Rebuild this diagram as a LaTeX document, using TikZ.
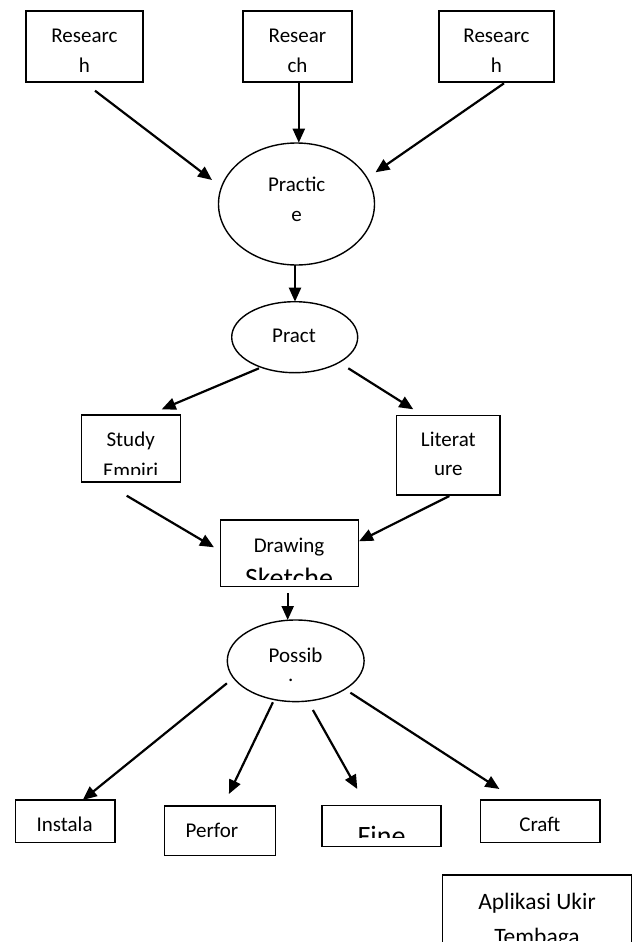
\documentclass[tikz,border=0pt]{standalone}
\usepackage{fontspec}
\setmainfont{Carlito}
\usetikzlibrary{arrows.meta,shapes.geometric}
\begin{document}
\begin{tikzpicture}[x=1pt,y=-1pt,
  box/.style={draw, line width=1.4pt, rectangle, inner sep=0pt},
  oval/.style={draw, line width=1.4pt, ellipse, inner sep=0pt},
  conn/.style={line width=2.2pt, -{Triangle[length=14pt,width=12pt]}},
  txt/.style={anchor=base, inner sep=0pt, font=\fontsize{21}{25}\selectfont},
  bigtxt/.style={anchor=base, inner sep=0pt, font=\fontsize{23.5}{28}\selectfont},
  hugetxt/.style={anchor=base, inner sep=0pt, font=\fontsize{28}{32}\selectfont},
  ]
\clip (0,0) rectangle (633,942);
\fill[white] (0,0) rectangle (633,942);

% shapes
\node[box, minimum width=117pt, minimum height=71pt] (r1) at (84.5,46.5) {};
\node[box, minimum width=109pt, minimum height=71pt] (r2) at (297.5,46.5) {};
\node[box, minimum width=115pt, minimum height=71pt] (r3) at (496.5,46.5) {};
\node[oval, minimum width=156pt, minimum height=122pt] (pr1) at (296.5,204) {};
\node[oval, minimum width=126pt, minimum height=71pt] (pr2) at (294.7,337.2) {};
\node[box, minimum width=99pt, minimum height=67pt] (st) at (131.2,448.4) {};
\node[box, minimum width=103.3pt, minimum height=79.3pt] (li) at (448.35,455.35) {};
\node[box, minimum width=138pt, minimum height=66.5pt] (dr) at (289.5,553.2) {};
\node[oval, minimum width=136.8pt, minimum height=81.6pt] (po) at (295.7,660.8) {};
\node[box, minimum width=99.7pt, minimum height=42.7pt] (in) at (65.15,821.35) {};
\node[box, minimum width=111pt, minimum height=49.3pt] (pe) at (219.8,830.65) {};
\node[box, minimum width=119pt, minimum height=41.5pt] (fi) at (381.5,826) {};
\node[box, minimum width=119.5pt, minimum height=42.7pt] (cr) at (540.15,821.35) {};
\node[box, minimum width=189.5pt, minimum height=85pt] (ap) at (537,917.5) {};

% texts
\node[txt] (r1a) at (84.5,43) {Researc};
\node[txt] (r1b) at (84.5,72) {h};
\node[txt] (r2a) at (297.5,43) {Resear};
\node[txt] (r2b) at (297.5,72) {ch};
\node[txt] (r3a) at (496.5,43) {Researc};
\node[txt] (r3b) at (496.5,72) {h};
\node[txt] (pr1a) at (296.7,191.7) {Practic};
\node[txt] (pr1b) at (296.7,221.7) {e};
\node[txt] (pr2a) at (294,342.7) {Pract};
\node[txt] (sta) at (130.7,446.3) {Study};
\begin{scope}
\clip (81.7,415) rectangle (180.7,474);
\node[txt] (stb) at (130.7,477.8) {Empiri};
\end{scope}
\node[txt] (lia) at (448.3,446.7) {Literat};
\node[txt] (lib) at (448.3,475.7) {ure};
\node[txt] (dra) at (289,552) {Drawing};
\begin{scope}
\clip (220.3,519.7) rectangle (357.7,579.5);
\node[hugetxt] (drb) at (289,587.3) {Sketche};
\end{scope}
\node[txt] (poa) at (295.5,662.7) {Possib};
\node[txt] (pob) at (290.7,681) {.};
\node[txt] (ina) at (64.6,831) {Instala};
\node[txt] (pea) at (212,837) {Perfor};
\begin{scope}
\clip (321.8,806) rectangle (442.9,837.3);
\node[hugetxt] (fia) at (381.5,845.3) {Fine};
\end{scope}
\node[txt] (cra) at (539.8,831) {Craft};
\node[bigtxt] (apa) at (537,909.3) {Aplikasi Ukir};
\begin{scope}
\clip (442,875) rectangle (631.8,940.5);
\node[bigtxt] (apb) at (537,944.5) {Tembaga};
\end{scope}

% connector end points
\coordinate (a1s) at (95,90.7);     \coordinate (a1e) at (212,180);
\coordinate (a2s) at (298.8,82.7);  \coordinate (a2e) at (298.8,142.7);
\coordinate (a3s) at (504,83.3);    \coordinate (a3e) at (375.5,172.3);
\coordinate (a4s) at (295,265);     \coordinate (a4e) at (295,301.7);
\coordinate (a5s) at (259,368.3);   \coordinate (a5e) at (161.7,409.3);
\coordinate (a6s) at (348.3,368.3); \coordinate (a6e) at (413.3,409.3);
\coordinate (a7s) at (126.7,495.7); \coordinate (a7e) at (214,547.3);
\coordinate (a8s) at (449.3,496);   \coordinate (a8e) at (359,541.3);
\coordinate (a9s) at (287.7,593.3); \coordinate (a9e) at (287.7,620);
\coordinate (b1s) at (226.9,683.3); \coordinate (b1e) at (82.8,800);
\coordinate (b2s) at (272.9,702.3); \coordinate (b2e) at (228.9,794);
\coordinate (b3s) at (312.9,710);   \coordinate (b3e) at (357.3,789);
\coordinate (b4s) at (350.4,692.7); \coordinate (b4e) at (499.4,789);

\draw[conn] (a1s) -- (a1e);
\draw[conn] (a2s) -- (a2e);
\draw[conn] (a3s) -- (a3e);
\draw[conn] (a4s) -- (a4e);
\draw[conn] (a5s) -- (a5e);
\draw[conn] (a6s) -- (a6e);
\draw[conn] (a7s) -- (a7e);
\draw[conn] (a8s) -- (a8e);
\draw[conn] (a9s) -- (a9e);
\draw[conn] (b1s) -- (b1e);
\draw[conn] (b2s) -- (b2e);
\draw[conn] (b3s) -- (b3e);
\draw[conn] (b4s) -- (b4e);
\end{tikzpicture}
\end{document}
